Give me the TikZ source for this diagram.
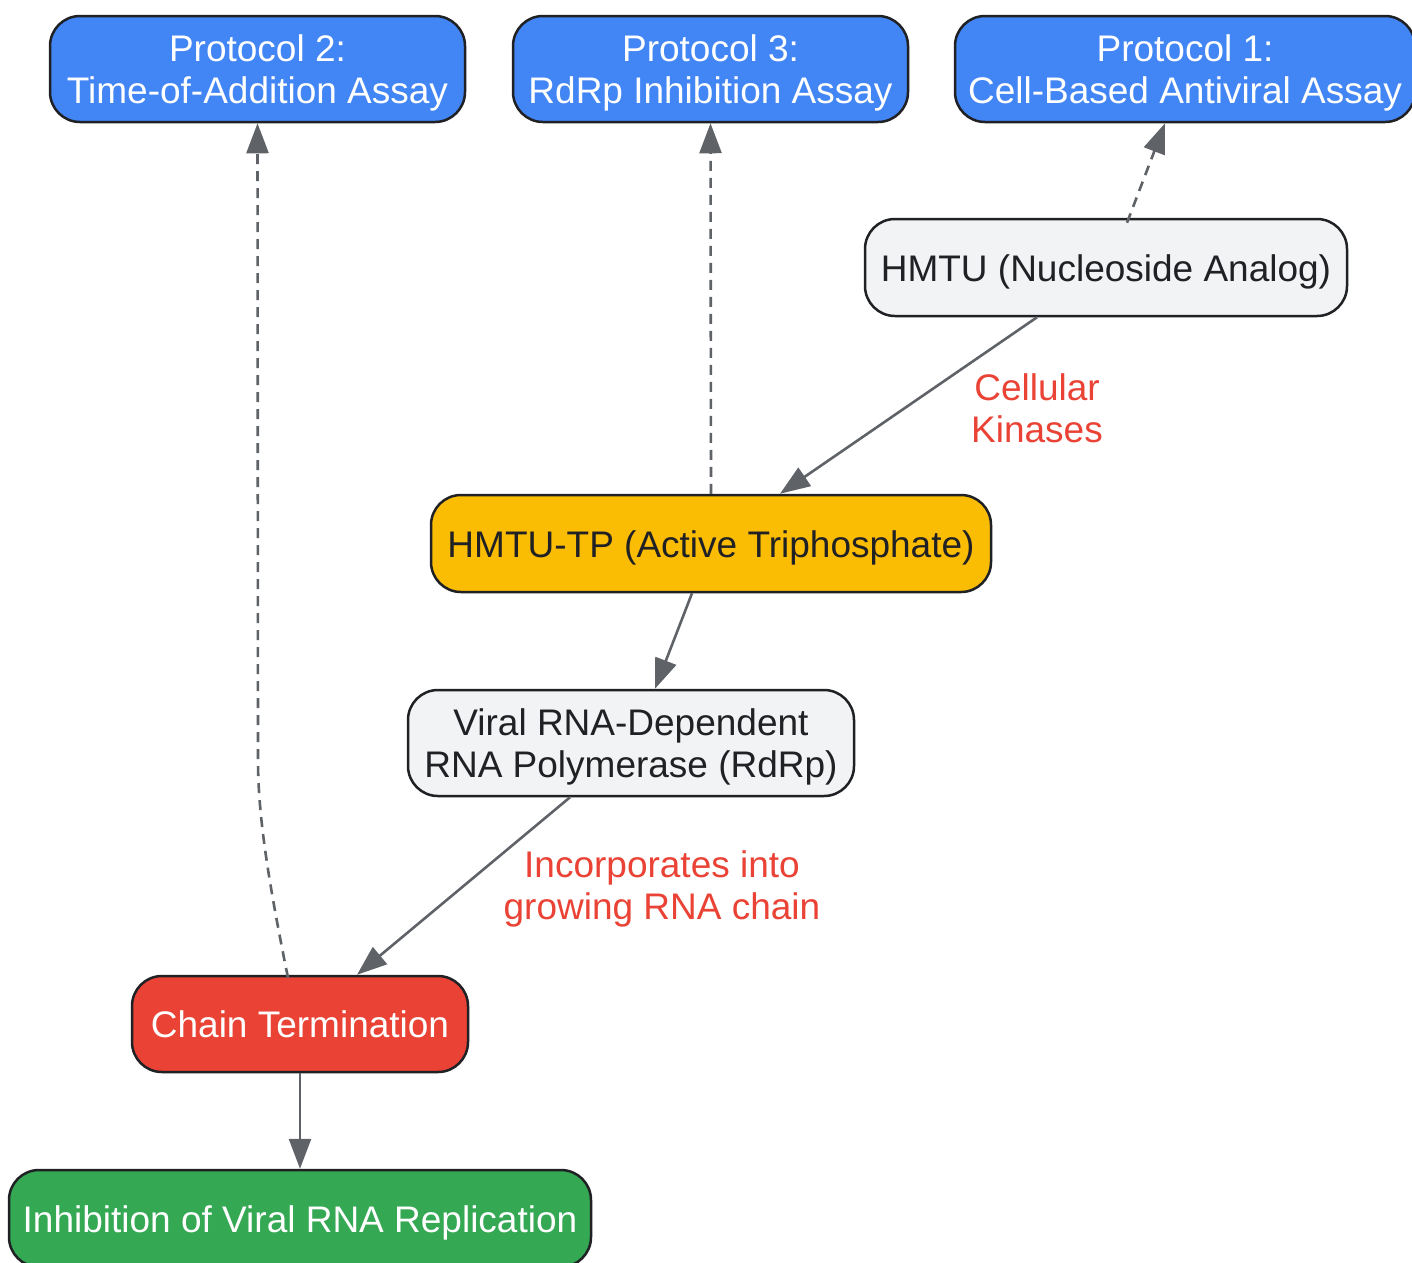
\documentclass[tikz,border=0pt]{standalone}
\usepackage{fontspec}
\setmainfont{Liberation Sans}
\usetikzlibrary{arrows.meta}
\definecolor{gblue}{HTML}{4285F4}
\definecolor{gyellow}{HTML}{FBBC04}
\definecolor{gred}{HTML}{EA4335}
\definecolor{ggreen}{HTML}{34A853}
\definecolor{ggray}{HTML}{F1F3F4}
\definecolor{gdark}{HTML}{202124}
\definecolor{gedge}{HTML}{5F6368}
\newcommand{\topstrut}{\rule{0pt}{35pt}}
\tikzset{
  box/.style={draw=gdark, line width=2.5pt, rounded corners=30pt, inner sep=0pt, align=center,
    font=\fontsize{37}{42}\selectfont},
  oneline/.style={text height=35pt, text depth=8pt},
  conn/.style={draw=gedge, line width=2.6pt, -{Triangle[length=30pt,width=22pt]}},
  dconn/.style={conn, dash pattern=on 10pt off 7pt},
  elabel/.style={text=gred, align=center, font=\fontsize{37}{42}\selectfont}
}
\begin{document}
\begin{tikzpicture}[x=1pt,y=-1pt]
\useasboundingbox[fill=white] (0,0) rectangle (1412,1262);
\node[box, fill=gblue, text=white, minimum width=415pt, minimum height=106pt] (p2) at (257.5,69) {\topstrut Protocol 2:\\Time-of-Addition Assay};
\node[box, fill=gblue, text=white, minimum width=395pt, minimum height=106pt] (p3) at (710.5,69) {\topstrut Protocol 3:\\RdRp Inhibition Assay};
\node[box, fill=gblue, text=white, minimum width=460pt, minimum height=106pt] (p1) at (1185,69) {\topstrut Protocol 1:\\Cell-Based Antiviral Assay};
\node[box, oneline, fill=ggray, text=gdark, minimum width=482pt, minimum height=97pt] (hmtu) at (1106,267.5) {HMTU (Nucleoside Analog)};
\node[box, oneline, fill=gyellow, text=gdark, minimum width=560pt, minimum height=97pt] (tp) at (711,543.5) {HMTU-TP (Active Triphosphate)};
\node[box, fill=ggray, text=gdark, minimum width=446pt, minimum height=106pt] (rdrp) at (631,743) {\topstrut Viral RNA-Dependent\\RNA Polymerase (RdRp)};
\node[box, oneline, fill=gred, text=white, minimum width=336pt, minimum height=96pt] (chain) at (300,1024) {Chain Termination};
\node[box, oneline, fill=ggreen, text=white, minimum width=582pt, minimum height=97pt] (inh) at (300,1218.5) {Inhibition of Viral RNA Replication};

\draw[dconn] ([xshift=21pt,yshift=-5pt]hmtu.north) -- ([xshift=-20pt]p1.south);
\draw[conn] ([xshift=-69pt]hmtu.south) -- ([xshift=69pt]tp.north);
\draw[dconn] (tp.north) -- (p3.south);
\draw[conn] ([xshift=-19pt]tp.south) -- ([xshift=24pt]rdrp.north);
\draw[conn] ([xshift=-61pt]rdrp.south) -- ([xshift=57pt]chain.north);
\draw[dconn] ([xshift=-12pt,yshift=-3pt]chain.north) .. controls (266,870) and (258,810) .. (258,760) -- (p2.south);
\draw[conn] (chain.south) -- (inh.north);

\node[elabel] (lk) at (1037,408) {Cellular\\Kinases};
\node[elabel] (li) at (662,889) {Incorporates into\\growing RNA chain};
\end{tikzpicture}
\end{document}
